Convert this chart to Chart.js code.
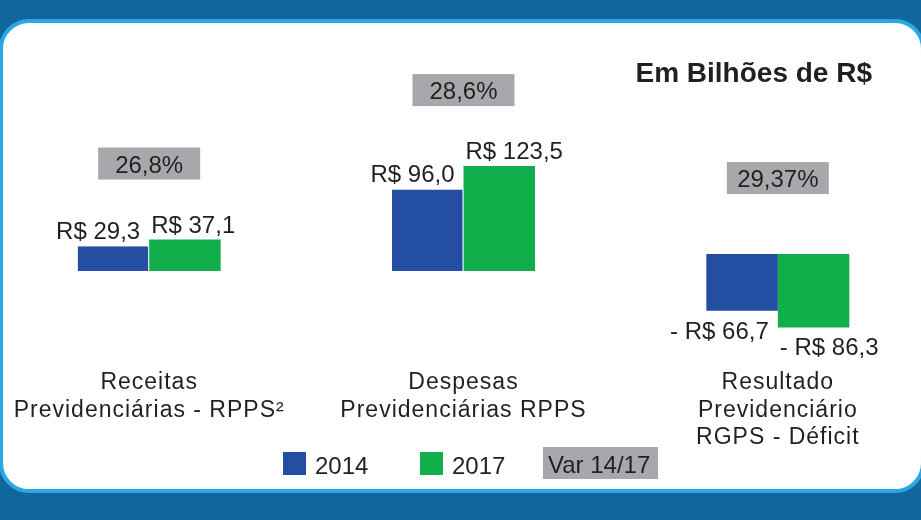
<!DOCTYPE html>
<html lang="pt-BR">
<head>
<meta charset="utf-8">
<script src="https://cdn.jsdelivr.net/npm/chart.js@4.4.1/dist/chart.umd.min.js"></script>
<style>
  html, body { margin: 0; padding: 0; width: 921px; height: 520px; overflow: hidden; background: #11679c; }
  #painel {
    position: absolute; left: -1px; top: 19px; width: 926px; height: 474px;
    box-sizing: border-box; border: 4px solid #2ba8e0; border-radius: 30px; background: #fff;
  }
  #grafico { position: absolute; left: -8px; top: 0; width: 943px; height: 520px; }
</style>
</head>
<body>
<div id="painel"></div>
<div id="grafico"><canvas id="c"></canvas></div>
<script>
// Dados (em bilhões de R$)
const categorias = [
    ['Receitas', 'Previdenciárias - RPPS²'],
    ['Despesas', 'Previdenciárias RPPS'],
    ['Resultado', 'Previdenciário', 'RGPS - Déficit']
];
const valores2014 = [29.3, 96.0, -66.7];
const valores2017 = [37.1, 123.5, -86.3];
const variacao = ['26,8%', '28,6%', '29,37%'];
const eixoDeficit = [false, false, true];   // o déficit tem a sua própria linha de base
const anos = ['2014', '2017'];
const legendaVar = 'Var 14/17';
const titulo = 'Em Bilhões de R$';

const AZUL = '#234ea1';
const VERDE = '#12ae4b';
const CINZA = '#a7a8ab';
const TEXTO = '#231f20';
const FONTE = '"Liberation Sans", Arial, Helvetica, sans-serif';
const DESLOC = 8; // o canvas começa 8px à esquerda da página

const soPositivos = arr => arr.map((v, i) => eixoDeficit[i] ? null : v);
const soDeficit = arr => arr.map((v, i) => eixoDeficit[i] ? v : null);

function formata(v) {
    return (v < 0 ? '- ' : '') + 'R$ ' + Math.abs(v).toFixed(1).replace('.', ',');
}

const base = { skipNull: true, categoryPercentage: 0.455, barPercentage: 1, borderWidth: 0 };
const gap = { borderColor: '#fff', borderWidth: { top: 0, left: 0, bottom: 0, right: 1 }, borderSkipped: false };

const rotulos = {
    id: 'rotulos',
    afterDatasetsDraw(chart) {
        const ctx = chart.ctx;
        const xs = chart.scales.x;
        ctx.save();
        ctx.fillStyle = TEXTO;

        // valores das barras
        ctx.font = '24px ' + FONTE;
        ctx.textBaseline = 'alphabetic';
        const topos = categorias.map(() => Infinity);
        chart.data.datasets.forEach((ds, d) => {
            const meta = chart.getDatasetMeta(d);
            meta.data.forEach((bar, i) => {
                const v = ds.data[i];
                if (v === null || v === undefined) return;
                const p = bar.getProps(['x', 'y', 'base', 'width'], true);
                topos[i] = Math.min(topos[i], p.y, p.base);
                const primeiro = ds.label === anos[0];
                let x;
                if (primeiro) { ctx.textAlign = 'right'; x = p.x + p.width / 2 - 9; }
                else { ctx.textAlign = 'left'; x = p.x - p.width / 2 + 2; }
                const y = v >= 0 ? p.y - 7 : p.y + 28;
                ctx.fillText(formata(v), x, y);
            });
        });

        // caixas de variação
        ctx.textAlign = 'center';
        variacao.forEach((txt, i) => {
            const cx = xs.getPixelForValue(i);
            const fundo = topos[i] - 60;
            ctx.fillStyle = CINZA;
            ctx.fillRect(cx - 51, fundo - 32, 102, 32);
            ctx.fillStyle = TEXTO;
            ctx.fillText(txt, cx, fundo - 7);
        });

        // rótulos das categorias
        ctx.font = '23px ' + FONTE;
        ctx.letterSpacing = '1px';
        categorias.forEach((linhas, i) => {
            const cx = xs.getPixelForValue(i);
            linhas.forEach((l, k) => ctx.fillText(l, cx, 389 + k * 27.5));
        });
        ctx.letterSpacing = '0px';

        // título e legenda (coordenadas da página)
        ctx.translate(DESLOC, 0);
        ctx.font = 'bold 28px ' + FONTE;
        ctx.textAlign = 'right';
        ctx.fillText(titulo, 872, 82);

        ctx.font = '24px ' + FONTE;
        ctx.textAlign = 'left';
        const cores = [AZUL, VERDE];
        const posX = [283, 420];
        anos.forEach((a, k) => {
            ctx.fillStyle = cores[k];
            ctx.fillRect(posX[k], 452, 23, 23);
            ctx.fillStyle = TEXTO;
            ctx.fillText(a, posX[k] + 32, 474);
        });
        ctx.fillStyle = CINZA;
        ctx.fillRect(543, 447, 115, 32);
        ctx.fillStyle = TEXTO;
        ctx.fillText(legendaVar, 548, 473);
        ctx.restore();
    }
};

new Chart(document.getElementById('c'), {
    type: 'bar',
    data: {
        labels: categorias,
        datasets: [
            { ...base, ...gap, label: anos[0], data: soPositivos(valores2014), backgroundColor: AZUL, yAxisID: 'y' },
            { ...base, label: anos[1], data: soPositivos(valores2017), backgroundColor: VERDE, yAxisID: 'y' },
            { ...base, label: anos[0], data: soDeficit(valores2014), backgroundColor: AZUL, yAxisID: 'y2' },
            { ...base, label: anos[1], data: soDeficit(valores2017), backgroundColor: VERDE, yAxisID: 'y2' }
        ]
    },
    options: {
        responsive: true,
        maintainAspectRatio: false,
        animation: false,
        layout: { padding: 0 },
        plugins: { legend: { display: false }, tooltip: { enabled: false } },
        scales: {
            x: { display: false, offset: true },
            y: { type: 'linear', display: false, min: -293, max: 319 },
            y2: { type: 'linear', display: false, min: -313, max: 299 }
        }
    },
    plugins: [rotulos]
});
</script>
</body>
</html>
